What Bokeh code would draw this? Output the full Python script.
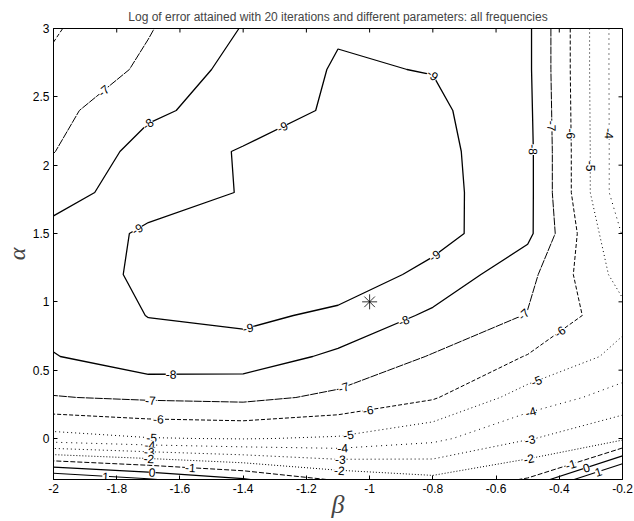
import numpy as np
import contourpy
from bokeh.plotting import figure
from bokeh.models import FixedTicker, ColumnDataSource, Range1d
from bokeh.core.properties import value
from bokeh.embed import file_html
from bokeh.resources import INLINE

# ---------------- data ----------------
betas = [-2.0, -1.7, -1.4, -1.1, -0.8, -0.5, -0.2]
alphas = [-0.3, 0.0, 0.3, 0.6, 0.9, 1.2, 1.5, 1.8, 2.1, 2.4, 2.7, 3.0]

# log of error, one list per beta column (alpha ascending)
log_err_b_m20 = [2.0, -4.6, -6.95, -7.95, -8.4, -8.5, -8.3, -7.6, -6.97, -6.7, -6.2, -5.9]
log_err_b_m17 = [1.1, -4.95, -7.15, -8.65, -9.02, -9.18, -9.175, -8.52, -8.44, -7.8, -7.2, -6.93]
log_err_b_m14 = [0.1, -5.05, -7.25, -8.55, -9.225, -9.4, -9.35, -9.05, -9.08, -8.48, -8.4, -8.05]
log_err_b_m11 = [-1.15, -4.9, -6.8, -7.8, -8.8, -9.6, -9.7, -9.7, -9.6, -9.16, -9.08, -8.92]
log_err_b_m08 = [-1.75, -4.25, -6.1, -6.93, -7.82, -8.72, -9.37, -9.35, -9.3, -9.2, -8.97, -8.7]
log_err_b_m05 = [-0.92, -3.07, -4.55, -5.95, -6.95, -7.3, -8.25, -8.3, -8.3, -8.25, -8.2, -8.2]
log_err_b_m02 = [3.0, -2.2, -3.6, -4.7, -5.3, -4.6, -3.95, -3.3, -3.3, -3.3, -3.3, -3.3]

levels = [-9, -8, -7, -6, -5, -4, -3, -2, -1, 0, 1]

star_beta = [-1.0]
star_alpha = [1.0]

xticks = [-2.0, -1.8, -1.6, -1.4, -1.2, -1.0, -0.8, -0.6, -0.4, -0.2]
xtick_labels = ["-2", "-1.8", "-1.6", "-1.4", "-1.2", "-1", "-0.8", "-0.6", "-0.4", "-0.2"]
yticks = [0.0, 0.5, 1.0, 1.5, 2.0, 2.5, 3.0]
ytick_labels = ["0", "0.5", "1", "1.5", "2", "2.5", "3"]

title = "Log of error attained with 20 iterations and different parameters: all frequencies"

# ---------------- styles ----------------
level_dash = ["solid", "solid", "8 1", "4 2", "1 3", "1 4", "1 3", "1 2", "5 2", "solid", "solid"]
level_width = [1.3, 1.3, 1.0, 1.0, 1.0, 1.0, 1.0, 1.0, 1.0, 1.2, 1.1]

FRAME_W, FRAME_H = 572, 452
X0, X1 = -2.0, -0.2
Y0, Y1 = -0.3, 3.0
SX = FRAME_W / (X1 - X0)
SY = FRAME_H / (Y1 - Y0)

Z = np.array([log_err_b_m20, log_err_b_m17, log_err_b_m14, log_err_b_m11,
              log_err_b_m08, log_err_b_m05, log_err_b_m02]).T

gen = contourpy.contour_generator(x=np.array(betas), y=np.array(alphas), z=Z,
                                  name="serial", line_type="Separate")

p = figure(width=634, height=521, output_backend="svg", toolbar_location=None,
           x_range=Range1d(X0, X1), y_range=Range1d(Y0, Y1),
           min_border_left=50, min_border_right=12, min_border_top=28, min_border_bottom=41)
p.background_fill_color = "white"
p.border_fill_color = "white"
p.grid.visible = False
p.outline_line_color = "black"
p.outline_line_width = 1

p.title.text = title
p.title.align = "center"
p.title.text_font = "Liberation Sans"
p.title.text_font_size = "12px"
p.title.text_font_style = "normal"
p.title.standoff = 9

lab_x, lab_y, lab_t, lab_a = [], [], [], []
for lev, dash, lw in zip(levels, level_dash, level_width):
    paths = gen.lines(lev)
    xs = [list(pp[:, 0]) for pp in paths]
    ys = [list(pp[:, 1]) for pp in paths]
    if xs:
        p.multi_line(xs, ys, line_color="black", line_dash=dash, line_width=lw)
    for pp in paths:
        px = (pp[:, 0] - X0) * SX
        py = (pp[:, 1] - Y0) * SY
        seg = np.hypot(np.diff(px), np.diff(py))
        cum = np.concatenate([[0.0], np.cumsum(seg)])
        L = cum[-1]
        if L < 40:
            continue
        n = max(1, int(round(L / 220.0)))
        for i in range(n):
            s = L * (i + 0.5) / n
            lab_x.append(float(np.interp(s, cum, pp[:, 0])))
            lab_y.append(float(np.interp(s, cum, pp[:, 1])))
            s1, s2 = max(s - 10, 0), min(s + 10, L)
            dx = np.interp(s2, cum, px) - np.interp(s1, cum, px)
            dy = np.interp(s2, cum, py) - np.interp(s1, cum, py)
            a = np.arctan2(dy, dx)
            if a > np.pi / 2:
                a -= np.pi
            if a < -np.pi / 2:
                a += np.pi
            lab_a.append(float(a))
            lab_t.append(str(lev))

src = ColumnDataSource(dict(x=lab_x, y=lab_y, t=lab_t, a=lab_a))
p.text(x="x", y="y", text="t", angle="a", source=src,
       text_font=value("Liberation Sans"), text_font_size="12px",
       text_align="center", text_baseline="middle", text_color="black",
       background_fill_color="white")

p.scatter(star_beta, star_alpha, marker="asterisk", size=15, line_color="black", line_width=0.8)

# inward ticks on the top and right edges of the box
p.ray(x=xticks, y=[Y1] * len(xticks), length=4, length_units="screen",
      angle=-np.pi / 2, line_color="black", line_width=1)
p.ray(x=[X1] * len(yticks), y=yticks, length=4, length_units="screen",
      angle=np.pi, line_color="black", line_width=1)

# axes
for ax in (p.xaxis[0], p.yaxis[0]):
    ax.major_tick_in = 4
    ax.major_tick_out = 0
    ax.minor_tick_line_color = None
    ax.major_label_text_font = "Liberation Sans"
    ax.major_label_text_font_size = "12px"
    ax.major_label_text_color = "black"
    ax.axis_line_color = "black"
    ax.major_label_standoff = 4

p.xaxis.ticker = FixedTicker(ticks=xticks)
p.xaxis.major_label_overrides = {t: l for t, l in zip(xticks, xtick_labels)}
p.yaxis.ticker = FixedTicker(ticks=yticks)
p.yaxis.major_label_overrides = {t: l for t, l in zip(yticks, ytick_labels)}

p.xaxis.axis_label = "β"
p.xaxis.axis_label_text_font = "Liberation Serif"
p.xaxis.axis_label_text_font_style = "italic"
p.xaxis.axis_label_text_font_size = "26px"
p.xaxis.axis_label_standoff = -6
p.yaxis.axis_label = "α"
p.yaxis.axis_label_text_font = "Liberation Serif"
p.yaxis.axis_label_text_font_style = "italic"
p.yaxis.axis_label_text_font_size = "24px"
p.yaxis.axis_label_standoff = 0

open("out.html", "w").write(file_html(p, INLINE))
